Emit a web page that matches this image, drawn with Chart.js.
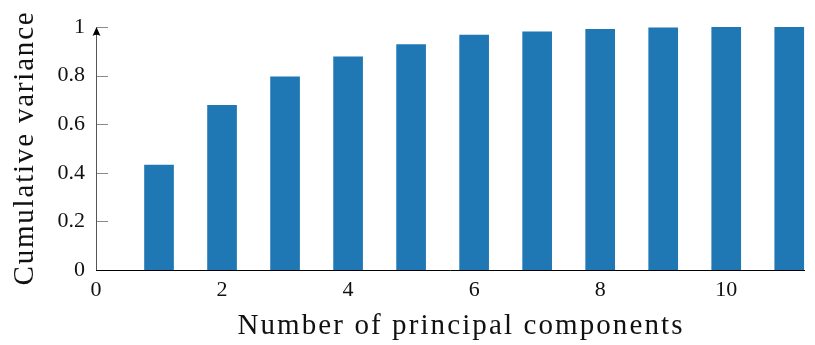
<!DOCTYPE html>
<html><head><meta charset="utf-8">
<script src="https://cdn.jsdelivr.net/npm/chart.js@4"></script>
<style>html,body{margin:0;padding:0;background:#fff}#wrap{width:815px;height:345px}</style>
</head><body><div id="wrap"><canvas id="c" width="815" height="345"></canvas></div>
<script>
const components = [1, 2, 3, 4, 5, 6, 7, 8, 9, 10, 11];
const cumulativeVariance = [0.432, 0.678, 0.795, 0.877, 0.928, 0.967, 0.980, 0.990, 0.997, 0.999, 1.0];
const xTicks = [0, 2, 4, 6, 8, 10];
const yTicks = [0, 0.2, 0.4, 0.6, 0.8, 1];
const xTitle = 'Number of principal components';
const yTitle = 'Cumulative variance';

const FONT = '"Liberation Serif", "DejaVu Serif", serif';

const axesPlugin = {
  id: 'axesPlugin',
  afterDraw(chart) {
    const ctx = chart.ctx;
    const xs = chart.scales.x, ys = chart.scales.y;
    const x0 = xs.getPixelForValue(0);
    const xEnd = xs.getPixelForValue(xs.max);
    const y0 = ys.getPixelForValue(0);
    const y1 = ys.getPixelForValue(1);
    ctx.save();
    ctx.strokeStyle = '#8a8a8a';
    ctx.lineWidth = 1;
    yTicks.forEach(v => {
      if (v === 0) return;
      const py = Math.round(ys.getPixelForValue(v)) + 0.5;
      ctx.beginPath(); ctx.moveTo(x0, py); ctx.lineTo(x0 + 12, py); ctx.stroke();
    });
    ctx.strokeStyle = '#555';
    ctx.beginPath(); ctx.moveTo(Math.round(x0) + 0.5, y0); ctx.lineTo(Math.round(x0) + 0.5, y1 + 2); ctx.stroke();
    const ax = Math.round(x0) + 0.5, tip = y1;
    ctx.fillStyle = '#000';
    ctx.beginPath();
    ctx.moveTo(ax, tip);
    ctx.lineTo(ax + 4, tip + 9);
    ctx.quadraticCurveTo(ax, tip + 6.5, ax - 4, tip + 9);
    ctx.closePath(); ctx.fill();
    ctx.strokeStyle = '#000';
    const py0 = Math.round(y0) + 0.5;
    ctx.beginPath(); ctx.moveTo(x0, py0); ctx.lineTo(xEnd, py0); ctx.stroke();
    ctx.fillStyle = '#111';
    ctx.font = '29px ' + FONT;
    ctx.letterSpacing = '2.1px';
    ctx.textAlign = 'center';
    ctx.textBaseline = 'alphabetic';
    ctx.fillText(xTitle, 461, 334);
    ctx.translate(33, 148);
    ctx.rotate(-Math.PI / 2);
    ctx.letterSpacing = '1.8px';
    ctx.fillText(yTitle, 0, 0);
    ctx.restore();
  }
};

new Chart(document.getElementById('c'), {
  type: 'bar',
  data: {
    datasets: [{
      data: components.map((c, i) => ({ x: c, y: cumulativeVariance[i] })),
      backgroundColor: '#1f77b4',
      borderWidth: 0,
      barThickness: 29
    }]
  },
  options: {
    responsive: false,
    animation: false,
    devicePixelRatio: 1,
    layout: { padding: { top: 27, right: 10, left: 0, bottom: 0 } },
    plugins: { legend: { display: false }, tooltip: { enabled: false } },
    scales: {
      x: {
        type: 'linear',
        min: 0, max: 11.25,
        offset: false,
        afterBuildTicks: s => { s.ticks = xTicks.map(v => ({ value: v })); },
        afterFit: s => { s.height = 75; },
        grid: { display: false, drawTicks: false },
        border: { display: false },
        ticks: { color: '#111', font: { family: FONT, size: 22 }, padding: 7, maxRotation: 0, autoSkip: false,
                 callback: v => String(v) }
      },
      y: {
        min: 0, max: 1,
        afterBuildTicks: s => { s.ticks = yTicks.map(v => ({ value: v })); },
        afterFit: s => { s.width = 96; },
        grid: { display: false, drawTicks: false },
        border: { display: false },
        ticks: { color: '#111', font: { family: FONT, size: 22 }, padding: 11, autoSkip: false,
                 callback: v => String(Math.round(v * 10) / 10) }
      }
    }
  },
  plugins: [axesPlugin]
});
</script>
</body></html>
